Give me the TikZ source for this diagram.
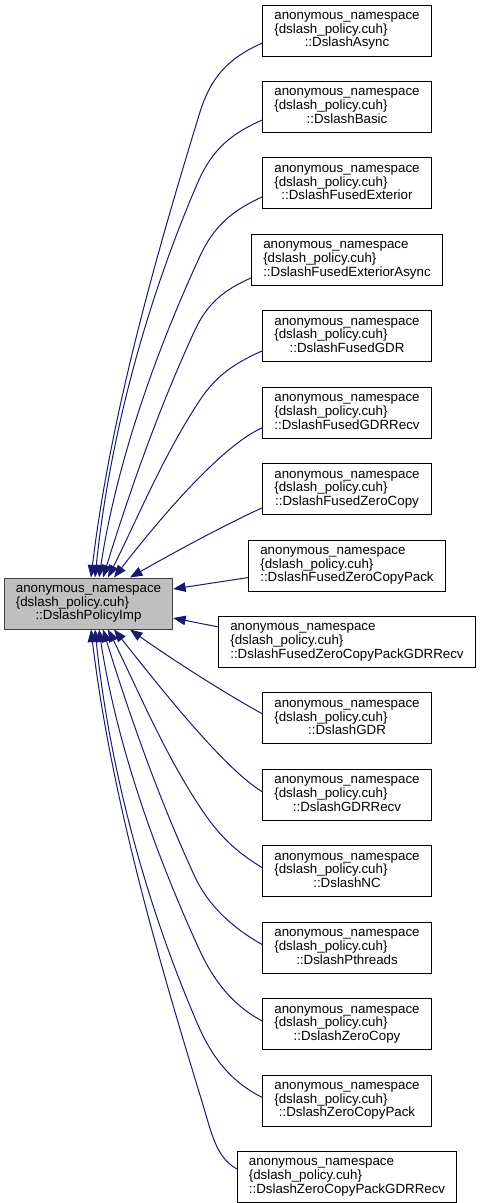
\documentclass[tikz,border=0pt]{standalone}
\usepackage{fontspec}
\setmainfont{Liberation Sans}
\usetikzlibrary{arrows.meta}
\definecolor{edgeblue}{HTML}{191970}
\definecolor{mainfill}{HTML}{BFBFBF}
\definecolor{mainborder}{HTML}{404040}
\newcommand\mynodefont{\fontsize{13.33pt}{13.6pt}\selectfont}
\newcommand\dlabel[1]{\begin{tabular}{@{}l@{}}anonymous\_namespace\\\{dslash\_policy.cuh\}\\\multicolumn{1}{@{}c@{}}{#1}\end{tabular}}
\begin{document}
\begin{tikzpicture}[x=1pt,y=-1pt,
  classbox/.style={draw=black,fill=white,line width=1pt,rectangle,minimum height=51pt,
    inner xsep=11.5pt,inner ysep=0pt,font=\mynodefont},
  mainbox/.style={classbox,fill=mainfill,draw=mainborder},
  depline/.style={draw=edgeblue,line width=1pt,-{Triangle[length=12.5pt,width=9.5pt]}}]
\useasboundingbox (0,0) rectangle (480,1203);
\node[mainbox] (main) at (88.5,603.5) {\dlabel{::DslashPolicyImp}};
\node[classbox] (n0) at (347,30.5) {\dlabel{::DslashAsync}};
\node[classbox] (n1) at (347,106.93) {\dlabel{::DslashBasic}};
\node[classbox] (n2) at (347,183.36) {\dlabel{::DslashFusedExterior}};
\node[classbox] (n3) at (347,259.79) {\dlabel{::DslashFusedExteriorAsync}};
\node[classbox] (n4) at (347,336.22) {\dlabel{::DslashFusedGDR}};
\node[classbox] (n5) at (347,412.65) {\dlabel{::DslashFusedGDRRecv}};
\node[classbox] (n6) at (347,489.08) {\dlabel{::DslashFusedZeroCopy}};
\node[classbox] (n7) at (347,565.51) {\dlabel{::DslashFusedZeroCopyPack}};
\node[classbox] (n8) at (347,641.94) {\dlabel{::DslashFusedZeroCopyPackGDRRecv}};
\node[classbox] (n9) at (347,718.37) {\dlabel{::DslashGDR}};
\node[classbox] (n10) at (347,794.8) {\dlabel{::DslashGDRRecv}};
\node[classbox] (n11) at (347,871.23) {\dlabel{::DslashNC}};
\node[classbox] (n12) at (347,947.66) {\dlabel{::DslashPthreads}};
\node[classbox] (n13) at (347,1024.09) {\dlabel{::DslashZeroCopy}};
\node[classbox] (n14) at (347,1100.52) {\dlabel{::DslashZeroCopyPack}};
\node[classbox] (n15) at (347,1176.95) {\dlabel{::DslashZeroCopyPackGDRRecv}};
% upper edges
\draw[depline] ([yshift=-12.5pt]n0.west) .. controls +(-34,15) and +(11,-35) .. (200,112)
  .. controls +(-47,153) and +(19,-158) .. ([xshift=2.5pt]main.north);
\draw[depline] ([yshift=-13pt]n1.west) .. controls +(-32,14) and +(14,-32) .. (198,182)
  .. controls +(-54,125) and +(14,-135) .. ([xshift=6.5pt]main.north);
\draw[depline] ([yshift=-13.5pt]n2.west) .. controls +(-30,13.5) and +(14,-30) .. (200,256)
  .. controls +(-47,102) and +(17,-111) .. ([xshift=10.5pt]main.north);
\draw[depline] ([yshift=-18pt]n3.west) .. controls +(-27,12) and +(12.6,-27) .. (195,330)
  .. controls +(-37,80) and +(26,-84) .. ([xshift=14.5pt]main.north);
\draw[depline] ([yshift=-14.6pt]n4.west) .. controls +(-27,12) and +(16.5,-25) .. (200,400)
  .. controls +(-37,56) and +(30,-60) .. ([xshift=19.5pt]main.north);
\draw[depline] ([yshift=-15pt]n5.west) .. controls +(-45,20) and +(35,-45) .. ([xshift=25.5pt]main.north);
\draw[depline] ([yshift=-18.7pt]n6.west) .. controls +(-40,18) and +(35,-20) .. ([xshift=41.5pt]main.north);
\draw[depline] ([yshift=-12pt]n7.west) -- ([yshift=14.5pt]main.east);
\draw[depline] ([yshift=15pt]n8.west) -- ([yshift=-14.5pt]main.east);
% lower edges
\draw[depline] ([yshift=4.5pt]n9.west) .. controls +(-45,-25) and +(35,25) .. ([xshift=41.5pt]main.south);
\draw[depline] ([yshift=3pt]n10.west) .. controls +(-40,-24) and +(40,50) .. ([xshift=25.5pt]main.south);
\draw[depline] ([yshift=3.5pt]n11.west) .. controls +(-30,-18) and +(16.5,25) .. (200,807)
  .. controls +(-37,-56) and +(30,60) .. ([xshift=19.5pt]main.south);
\draw[depline] ([yshift=3pt]n12.west) .. controls +(-32,-18) and +(12.6,27) .. (195,877)
  .. controls +(-37,-80) and +(26,84) .. ([xshift=14.5pt]main.south);
\draw[depline] ([yshift=3pt]n13.west) .. controls +(-30,-16) and +(14,30) .. (200,951)
  .. controls +(-47,-102) and +(17,111) .. ([xshift=10.5pt]main.south);
\draw[depline] ([yshift=3pt]n14.west) .. controls +(-32,-16) and +(14,32) .. (198,1025)
  .. controls +(-54,-125) and +(14,135) .. ([xshift=6.5pt]main.south);
\draw[depline] ([yshift=8pt]n15.west) .. controls +(-22,-12) and +(11,35) .. (200,1095)
  .. controls +(-47,-153) and +(19,158) .. ([xshift=2.5pt]main.south);
\end{tikzpicture}
\end{document}
